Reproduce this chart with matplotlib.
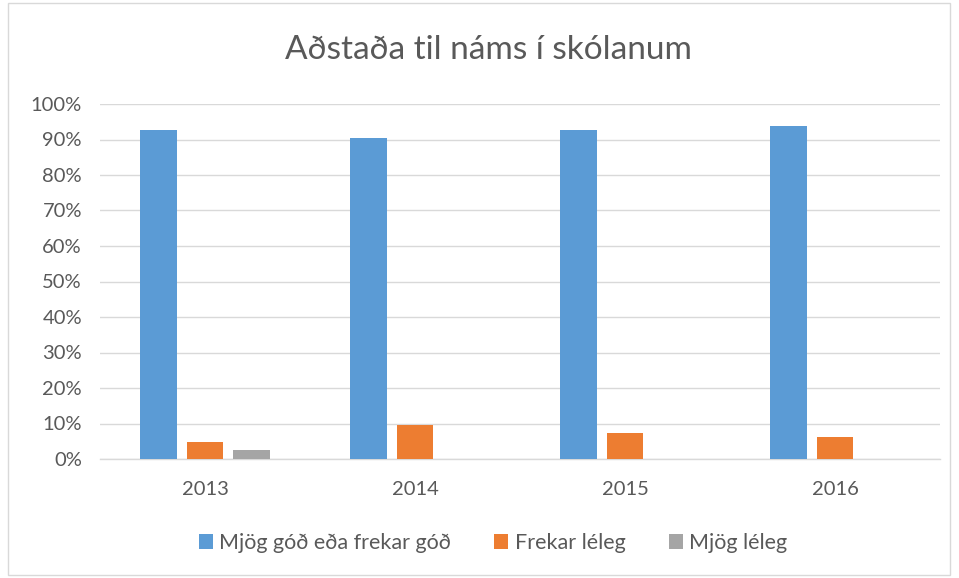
import matplotlib
matplotlib.use("Agg")
import matplotlib.pyplot as plt
import numpy as np
from matplotlib.patches import Rectangle

title = "Aðstaða til náms í skólanum"
years = ["2013", "2014", "2015", "2016"]
series_names = ["Mjög góð eða frekar góð", "Frekar léleg", "Mjög léleg"]
mjog_god = [92.8, 90.3, 92.6, 93.8]
frekar_leleg = [4.8, 9.7, 7.3, 6.2]
mjog_leleg = [2.5, 0.0, 0.0, 0.0]
colors = ["#5b9bd5", "#ed7d31", "#a5a5a5"]
yticks = [0, 10, 20, 30, 40, 50, 60, 70, 80, 90, 100]

plt.rcParams['font.family'] = ['Lato', 'DejaVu Sans']
txt = "#595959"

fig = plt.figure(figsize=(9.59, 5.78), dpi=100)
fig.patches.append(Rectangle((8/959, 3/578), 942/959, 572/578, transform=fig.transFigure,
                             fill=False, edgecolor="#d9d9d9", linewidth=1))
ax = fig.add_axes([100/959, 1-459/578, 840/959, 355/578])

x = np.arange(len(years))
w = 0.176
off = 0.221
data = [mjog_god, frekar_leleg, mjog_leleg]
for i, (vals, c, name) in enumerate(zip(data, colors, series_names)):
    ax.bar(x + (i-1)*off, vals, width=w, color=c, label=name, zorder=3)

ax.set_xlim(-0.5, len(years)-0.5)
ax.set_ylim(0, 100)
ax.set_yticks(yticks)
ax.set_yticklabels([f"{v}%" for v in yticks])
ax.set_xticks(x)
ax.set_xticklabels(years)
ax.tick_params(axis='both', length=0, labelsize=14.5, colors=txt)
ax.tick_params(axis='y', pad=13)
ax.tick_params(axis='x', pad=16)
ax.grid(axis='y', color="#d9d9d9", linewidth=1, zorder=0)
for s in ['top', 'right', 'left']:
    ax.spines[s].set_visible(False)
ax.spines['bottom'].set_color("#d9d9d9")
ax.spines['bottom'].set_linewidth(1)

fig.text(488/959, 1-50/578, title, ha='center', va='center', fontsize=24,
         color=txt)

leg = fig.legend(loc='center', bbox_to_anchor=(493/959, 1-543/578), ncol=3, frameon=False,
                 fontsize=15.5, labelcolor=txt, handlelength=0.65, handleheight=0.65,
                 handletextpad=0.3, columnspacing=2.0)

fig.savefig("out.png", dpi=100)
